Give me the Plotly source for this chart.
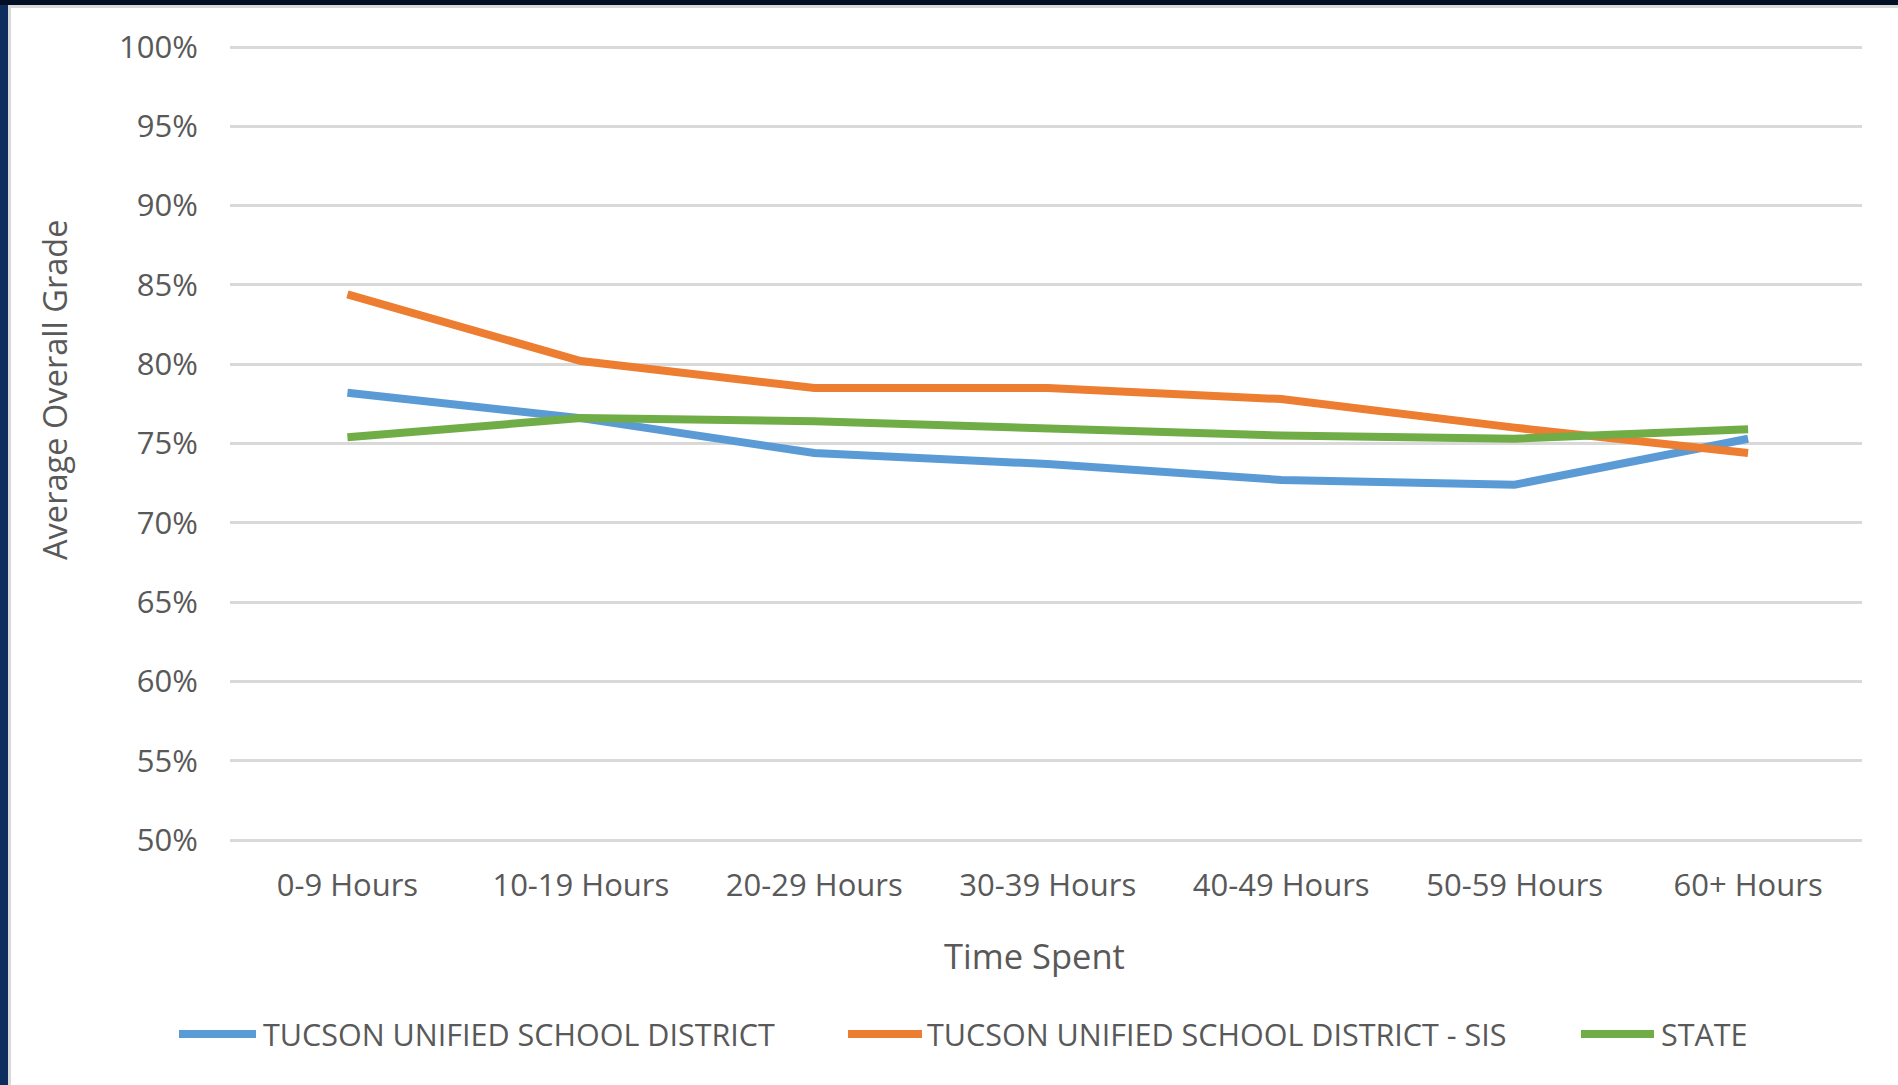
import plotly.graph_objects as go

categories = ["0-9 Hours", "10-19 Hours", "20-29 Hours", "30-39 Hours",
              "40-49 Hours", "50-59 Hours", "60+ Hours"]
tusd = [0.782, 0.766, 0.744, 0.737, 0.727, 0.724, 0.753]
tusd_sis = [0.844, 0.802, 0.785, 0.785, 0.778, 0.760, 0.744]
state = [0.754, 0.766, 0.764, 0.760, 0.755, 0.753, 0.759]

series_names = ["TUCSON UNIFIED SCHOOL DISTRICT",
                "TUCSON UNIFIED SCHOOL DISTRICT - SIS",
                "STATE"]
series_values = [tusd, tusd_sis, state]
colors = ["#5B9BD5", "#ED7D31", "#70AD47"]

W, H = 1898, 1085
# target page positions of the 100% and 50% gridlines
Y_TOP, Y_BOT = 47, 840
PAD = 6
L, R = 230, 36
T, B = Y_TOP - PAD, H - Y_BOT - PAD
PW, PH = W - L - R, H - T - B
unit = (Y_BOT - Y_TOP) / 0.5
yr = [0.5 - PAD / unit, 1.0 + PAD / unit]


def px(x):
    return (x - L) / PW


def py(y):
    return (H - B - y) / PH


FONT = "Open Sans"
TXT = "#595959"

fig = go.Figure()
for name, vals, col in zip(series_names, series_values, colors):
    fig.add_trace(go.Scatter(x=categories, y=vals, name=name, mode="lines",
                             line=dict(color=col, width=8),
                             showlegend=False))

shapes = [
    # slide background strips
    dict(type="rect", xref="paper", yref="paper", x0=px(0), x1=px(8), y0=py(H), y1=py(0),
         fillcolor="#0c2d5e", line_width=0, layer="below"),
    dict(type="rect", xref="paper", yref="paper", x0=px(0), x1=px(W), y0=py(5), y1=py(0),
         fillcolor="#020f24", line_width=0, layer="below"),
    dict(type="rect", xref="paper", yref="paper", x0=px(8), x1=px(11), y0=py(H), y1=py(5),
         fillcolor="#d9d9d9", line_width=0, layer="below"),
    dict(type="rect", xref="paper", yref="paper", x0=px(8), x1=px(W), y0=py(8), y1=py(5),
         fillcolor="#d9d9d9", line_width=0, layer="below"),
]

annotations = [
    dict(text="Time Spent", xref="paper", yref="paper", x=px(1034), y=py(955),
         xanchor="center", yanchor="middle", showarrow=False,
         font=dict(family=FONT, size=34.5, color=TXT)),
    dict(text="Average Overall Grade", xref="paper", yref="paper", x=px(54), y=py(390),
         xanchor="center", yanchor="middle", showarrow=False, textangle=-90,
         font=dict(family=FONT, size=32.6, color=TXT)),
]

# custom legend
leg = [(175, 260, 261), (844, 926, 925), (1577, 1658, 1659)]
leg_y = 1034
for (x0, x1, tx), name, col in zip(leg, series_names, colors):
    shapes.append(dict(type="line", xref="paper", yref="paper",
                       x0=px(x0 + 4), x1=px(x1 - 4), y0=py(leg_y), y1=py(leg_y),
                       line=dict(color=col, width=8)))
    annotations.append(dict(text=name, xref="paper", yref="paper", x=px(tx), y=py(leg_y),
                            xanchor="left", yanchor="middle", showarrow=False,
                            font=dict(family=FONT, size=30.5, color=TXT)))

fig.update_layout(
    width=W, height=H, autosize=False,
    margin=dict(l=L, r=R, t=T, b=B, pad=0),
    paper_bgcolor="white", plot_bgcolor="white",
    font=dict(family=FONT, color=TXT, size=31),
    shapes=shapes, annotations=annotations,
    showlegend=False,
)
fig.update_xaxes(range=[-0.503, 6.488], showgrid=False, showline=False, zeroline=False,
                 ticks="outside", ticklen=18 - PAD, tickcolor="rgba(0,0,0,0)",
                 tickfont=dict(family=FONT, size=31, color=TXT))
fig.update_yaxes(range=yr, dtick=0.05, tick0=0.5, tickformat=".0%",
                 showgrid=True, gridcolor="#D9D9D9", gridwidth=2.5,
                 showline=False, zeroline=False,
                 ticks="outside", ticklen=25, tickcolor="rgba(0,0,0,0)",
                 tickfont=dict(family=FONT, size=31, color=TXT))

fig.write_html("out.html", config={"displayModeBar": False},
               post_script="document.body.style.margin='0';document.body.style.overflow='hidden';")
